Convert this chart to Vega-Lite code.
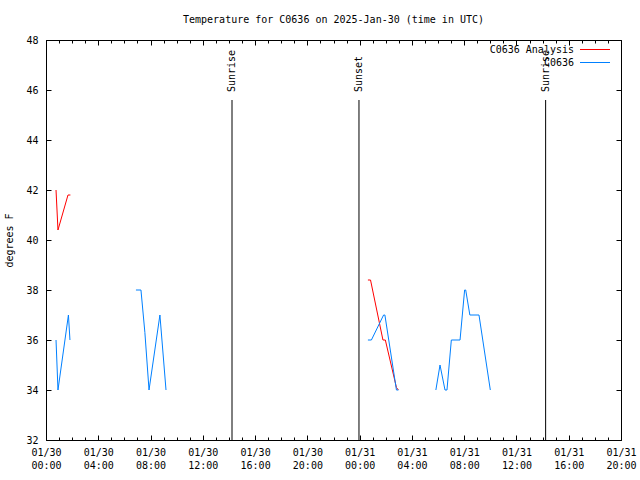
{
  "$schema": "https://vega.github.io/schema/vega-lite/v6.json",
  "width": 575,
  "height": 400,
  "autosize": "none",
  "padding": {"left": 46, "top": 40, "right": 19, "bottom": 40},
  "background": "white",
  "config": {
    "font": "DejaVu Sans Mono",
    "view": {"stroke": "black", "strokeWidth": 1},
    "axis": {
      "grid": false,
      "domain": false,
      "labelFont": "DejaVu Sans Mono",
      "labelFontSize": 10,
      "labelColor": "black",
      "tickColor": "black",
      "tickWidth": 1,
      "titleFont": "DejaVu Sans Mono",
      "titleFontSize": 10,
      "titleFontWeight": "normal",
      "titleColor": "black",
      "labelFlush": false,
      "labelOverlap": false,
      "labelBound": false
    }
  },
  "title": {
    "text": "Temperature for C0636 on 2025-Jan-30 (time in UTC)",
    "font": "DejaVu Sans Mono",
    "fontSize": 10,
    "fontWeight": "normal",
    "color": "black",
    "anchor": "middle",
    "offset": 10
  },
  "datasets": {
    "temps": [
      {"series": "C0636 Analysis", "seg": "a1", "time": "2025-01-30T00:46:00Z", "temp": 42.0},
      {"series": "C0636 Analysis", "seg": "a1", "time": "2025-01-30T00:55:00Z", "temp": 40.4},
      {"series": "C0636 Analysis", "seg": "a1", "time": "2025-01-30T01:41:00Z", "temp": 41.8},
      {"series": "C0636 Analysis", "seg": "a1", "time": "2025-01-30T01:52:00Z", "temp": 41.8},
      {"series": "C0636 Analysis", "seg": "a2", "time": "2025-01-31T00:38:00Z", "temp": 38.4},
      {"series": "C0636 Analysis", "seg": "a2", "time": "2025-01-31T00:50:00Z", "temp": 38.4},
      {"series": "C0636 Analysis", "seg": "a2", "time": "2025-01-31T01:47:00Z", "temp": 36.0},
      {"series": "C0636 Analysis", "seg": "a2", "time": "2025-01-31T01:58:00Z", "temp": 36.0},
      {"series": "C0636 Analysis", "seg": "a2", "time": "2025-01-31T02:49:00Z", "temp": 34.1},
      {"series": "C0636 Analysis", "seg": "a2", "time": "2025-01-31T02:58:00Z", "temp": 34.0},
      {"series": "C0636", "seg": "o1", "time": "2025-01-30T00:46:00Z", "temp": 36.0},
      {"series": "C0636", "seg": "o1", "time": "2025-01-30T00:55:00Z", "temp": 34.0},
      {"series": "C0636", "seg": "o1", "time": "2025-01-30T01:43:00Z", "temp": 37.0},
      {"series": "C0636", "seg": "o1", "time": "2025-01-30T01:50:00Z", "temp": 36.0},
      {"series": "C0636", "seg": "o2", "time": "2025-01-30T06:53:00Z", "temp": 38.0},
      {"series": "C0636", "seg": "o2", "time": "2025-01-30T07:16:00Z", "temp": 38.0},
      {"series": "C0636", "seg": "o2", "time": "2025-01-30T07:34:00Z", "temp": 36.3},
      {"series": "C0636", "seg": "o2", "time": "2025-01-30T07:53:00Z", "temp": 34.0},
      {"series": "C0636", "seg": "o2", "time": "2025-01-30T08:43:00Z", "temp": 37.0},
      {"series": "C0636", "seg": "o2", "time": "2025-01-30T09:11:00Z", "temp": 34.0},
      {"series": "C0636", "seg": "o3", "time": "2025-01-31T00:38:00Z", "temp": 36.0},
      {"series": "C0636", "seg": "o3", "time": "2025-01-31T00:54:00Z", "temp": 36.0},
      {"series": "C0636", "seg": "o3", "time": "2025-01-31T01:50:00Z", "temp": 37.0},
      {"series": "C0636", "seg": "o3", "time": "2025-01-31T01:56:00Z", "temp": 37.0},
      {"series": "C0636", "seg": "o3", "time": "2025-01-31T02:49:00Z", "temp": 34.0},
      {"series": "C0636", "seg": "o3", "time": "2025-01-31T02:58:00Z", "temp": 34.0},
      {"series": "C0636", "seg": "o4", "time": "2025-01-31T05:50:00Z", "temp": 34.0},
      {"series": "C0636", "seg": "o4", "time": "2025-01-31T06:09:00Z", "temp": 35.0},
      {"series": "C0636", "seg": "o4", "time": "2025-01-31T06:32:00Z", "temp": 34.0},
      {"series": "C0636", "seg": "o4", "time": "2025-01-31T06:41:00Z", "temp": 34.0},
      {"series": "C0636", "seg": "o4", "time": "2025-01-31T07:01:00Z", "temp": 36.0},
      {"series": "C0636", "seg": "o4", "time": "2025-01-31T07:41:00Z", "temp": 36.0},
      {"series": "C0636", "seg": "o4", "time": "2025-01-31T08:02:00Z", "temp": 38.0},
      {"series": "C0636", "seg": "o4", "time": "2025-01-31T08:07:00Z", "temp": 38.0},
      {"series": "C0636", "seg": "o4", "time": "2025-01-31T08:26:00Z", "temp": 37.0},
      {"series": "C0636", "seg": "o4", "time": "2025-01-31T09:08:00Z", "temp": 37.0},
      {"series": "C0636", "seg": "o4", "time": "2025-01-31T10:00:00Z", "temp": 34.0}
    ],
    "sun": [
      {"time": "2025-01-30T14:14:00Z", "event": "Sunrise"},
      {"time": "2025-01-30T23:57:00Z", "event": "Sunset"},
      {"time": "2025-01-31T14:14:00Z", "event": "Sunrise"}
    ]
  },
  "layer": [
    {
      "data": {"name": "temps"},
      "transform": [{"filter": "datum.series === 'C0636 Analysis'"}],
      "mark": {"type": "line", "strokeWidth": 1},
      "encoding": {
        "x": {
          "field": "time", "type": "temporal",
          "scale": {"type": "utc", "nice": false, "domain": [1738195200000, 1738353600000]},
          "axis": {
            "orient": "bottom", "title": null,
            "values": [1738195200000, 1738209600000, 1738224000000, 1738238400000, 1738252800000, 1738267200000, 1738281600000, 1738296000000, 1738310400000, 1738324800000, 1738339200000, 1738353600000],
            "tickSize": 5, "offset": -5, "labelPadding": 7,
            "format": "%m/%d"
          }
        },
        "y": {
          "field": "temp", "type": "quantitative",
          "scale": {"domain": [32, 48], "nice": false, "zero": false},
          "axis": {
            "orient": "left", "title": "degrees F",
            "values": [32, 34, 36, 38, 40, 42, 44, 46, 48],
            "tickSize": 5, "offset": -5, "labelPadding": 8, "titlePadding": 11
          }
        },
        "color": {
          "field": "series", "type": "nominal",
          "scale": {"domain": ["C0636 Analysis", "C0636"], "range": ["#ff0000", "#0080ff"]},
          "legend": {
            "orient": "none", "legendX": 543.5, "legendY": 4,
            "title": null, "padding": 0,
            "symbolType": "M-3,0H3", "symbolSize": 100, "symbolStrokeWidth": 1,
            "rowPadding": 2,
            "labelFont": "DejaVu Sans Mono", "labelFontSize": 10, "labelColor": "black",
            "labelAlign": "right", "labelOffset": -26.5
          }
        },
        "detail": {"field": "seg"}
      }
    },
    {
      "data": {"name": "temps"},
      "transform": [{"filter": "datum.series === 'C0636'"}],
      "mark": {"type": "line", "strokeWidth": 1},
      "encoding": {
        "x": {
          "field": "time", "type": "temporal",
          "axis": {
            "orient": "bottom", "title": null,
            "values": [1738195200000, 1738198800000, 1738202400000, 1738206000000, 1738209600000, 1738213200000, 1738216800000, 1738220400000, 1738224000000, 1738227600000, 1738231200000, 1738234800000, 1738238400000, 1738242000000, 1738245600000, 1738249200000, 1738252800000, 1738256400000, 1738260000000, 1738263600000, 1738267200000, 1738270800000, 1738274400000, 1738278000000, 1738281600000, 1738285200000, 1738288800000, 1738292400000, 1738296000000, 1738299600000, 1738303200000, 1738306800000, 1738310400000, 1738314000000, 1738317600000, 1738321200000, 1738324800000, 1738328400000, 1738332000000, 1738335600000, 1738339200000, 1738342800000, 1738346400000, 1738350000000, 1738353600000],
            "tickSize": 3, "offset": -3, "labelPadding": 20,
            "labelExpr": "utchours(datum.value) % 4 === 0 ? utcFormat(datum.value, '%H:%M') : ''"
          }
        },
        "y": {
          "field": "temp", "type": "quantitative",
          "axis": {
            "orient": "right", "title": null, "labels": false,
            "values": [32, 34, 36, 38, 40, 42, 44, 46, 48],
            "tickSize": 5, "offset": -5
          }
        },
        "color": {"field": "series", "type": "nominal"},
        "detail": {"field": "seg"}
      }
    },
    {
      "data": {"name": "sun"},
      "mark": {"type": "rule", "color": "black", "strokeWidth": 1},
      "encoding": {
        "x": {
          "field": "time", "type": "temporal",
          "axis": {
            "orient": "top", "title": null, "labels": false,
            "values": [1738195200000, 1738209600000, 1738224000000, 1738238400000, 1738252800000, 1738267200000, 1738281600000, 1738296000000, 1738310400000, 1738324800000, 1738339200000, 1738353600000],
            "tickSize": 5, "offset": -5
          }
        },
        "y": {"datum": 45.6, "type": "quantitative", "axis": null},
        "y2": {"datum": 32}
      }
    },
    {
      "data": {"name": "sun"},
      "mark": {"type": "text", "angle": 270, "align": "left", "baseline": "middle", "font": "DejaVu Sans Mono", "fontSize": 10, "color": "black"},
      "encoding": {
        "x": {
          "field": "time", "type": "temporal",
          "axis": {
            "orient": "top", "title": null, "labels": false,
            "values": [1738195200000, 1738198800000, 1738202400000, 1738206000000, 1738209600000, 1738213200000, 1738216800000, 1738220400000, 1738224000000, 1738227600000, 1738231200000, 1738234800000, 1738238400000, 1738242000000, 1738245600000, 1738249200000, 1738252800000, 1738256400000, 1738260000000, 1738263600000, 1738267200000, 1738270800000, 1738274400000, 1738278000000, 1738281600000, 1738285200000, 1738288800000, 1738292400000, 1738296000000, 1738299600000, 1738303200000, 1738306800000, 1738310400000, 1738314000000, 1738317600000, 1738321200000, 1738324800000, 1738328400000, 1738332000000, 1738335600000, 1738339200000, 1738342800000, 1738346400000, 1738350000000, 1738353600000],
            "tickSize": 3, "offset": -3
          }
        },
        "y": {"datum": 45.92, "type": "quantitative", "axis": null},
        "text": {"field": "event"}
      }
    }
  ],
  "resolve": {"axis": {"x": "independent", "y": "independent"}}
}
